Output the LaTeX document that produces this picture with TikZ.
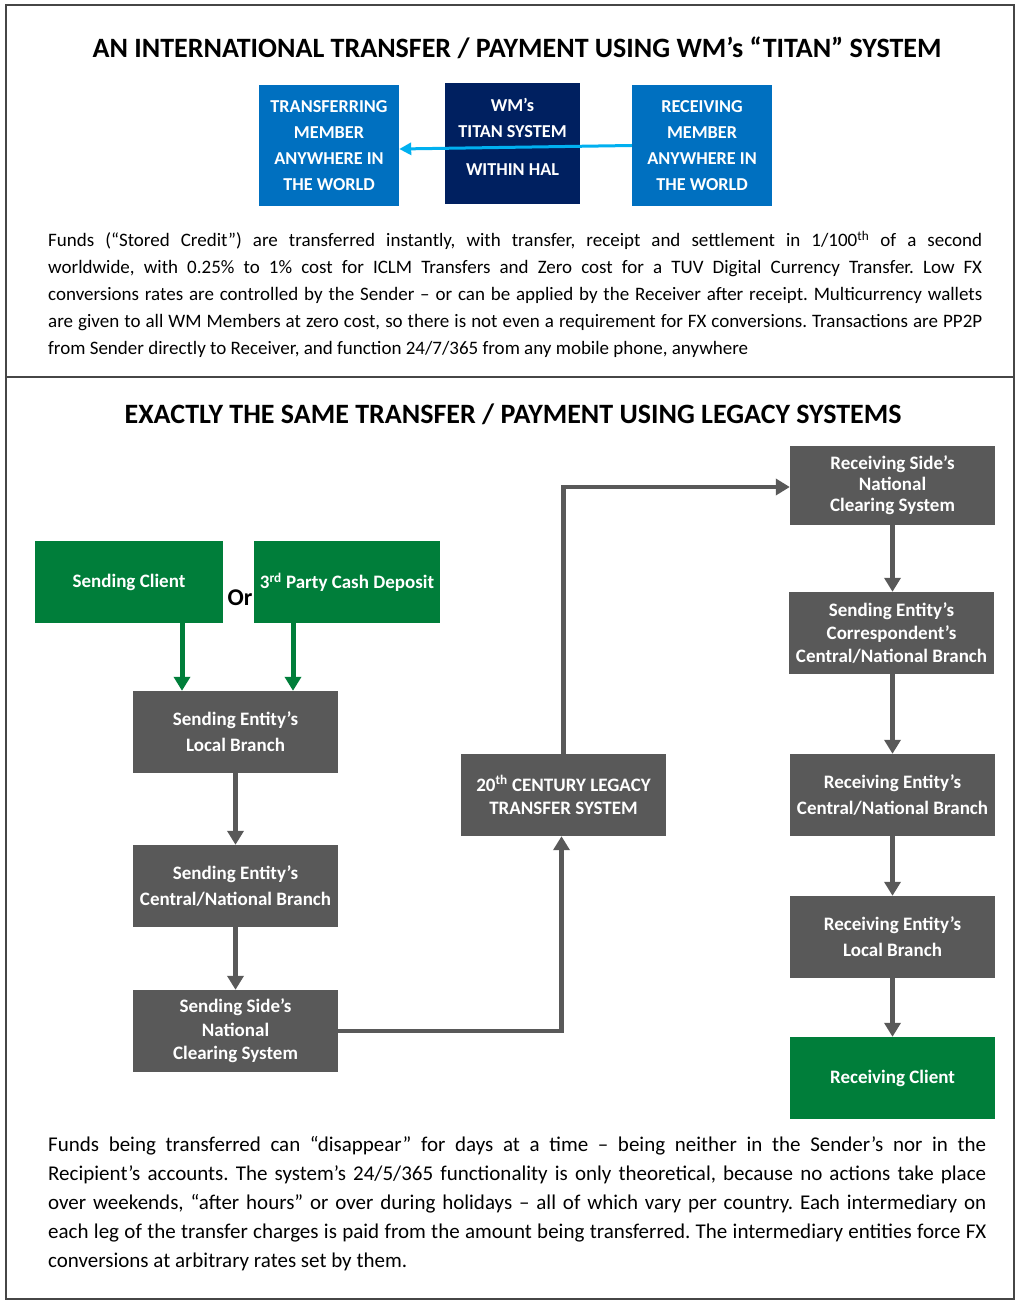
\documentclass[tikz,border=0pt]{standalone}
\usepackage{fontspec}
\setmainfont{Carlito}
\usepackage{xcolor}
\usetikzlibrary{arrows.meta}

\definecolor{wmblue}{RGB}{0,112,192}
\definecolor{wmnavy}{RGB}{0,32,96}
\definecolor{wmcyan}{RGB}{0,176,240}
\definecolor{clientgreen}{RGB}{0,126,58}
\definecolor{legacygray}{RGB}{89,89,89}
\definecolor{framegray}{RGB}{70,70,70}
\frenchspacing

\begin{document}
\begin{tikzpicture}[
  x=1pt, y=-1pt,
  box/.style={draw=none, inner sep=0pt, align=center, text=white},
  memberbox/.style={box, fill=wmblue, minimum width=140pt, minimum height=121pt,
    font=\bfseries\fontsize{18.2}{26}\selectfont},
  titanbox/.style={box, fill=wmnavy, minimum width=135pt, minimum height=121pt},
  clientbox/.style={box, fill=clientgreen, minimum width=#1, minimum height=82pt,
    font=\bfseries\fontsize{19}{23}\selectfont},
  clientbox/.default=205pt,
  legacybox/.style={box, fill=legacygray, minimum width=205pt, minimum height=82pt,
    font=\bfseries\fontsize{19}{#1}\selectfont},
  legacybox/.default=23,
  heading/.style={font=\bfseries\fontsize{28}{32}\selectfont, inner sep=0pt},
  para/.style={anchor=north west, inner sep=0pt, text width=#1, align=justify},
  flow/.style={draw=legacygray, line width=4.5pt, -{Triangle[width=16pt,length=14pt]}},
  greenflow/.style={draw=clientgreen, line width=5pt, -{Triangle[width=16pt,length=14pt]}}
]
\useasboundingbox (0,0) rectangle (1020,1305);
\draw[framegray, line width=1.5pt] (6,5) rectangle (1014,1299);
\draw[framegray, line width=2pt] (6,377) -- (1014,377);

% top half: the titan system
\node[heading] (title1) at (517,48) {AN INTERNATIONAL TRANSFER / PAYMENT USING WM’s “TITAN” SYSTEM};

\node[memberbox] (sender) at (329,145.5) {TRANSFERRING\\MEMBER\\ANYWHERE IN\\THE WORLD};
\node[titanbox] (titan) at (512.5,143.5) {};
\node[text=white, align=center, inner sep=0pt, font=\bfseries\fontsize{18.2}{26}\selectfont]
  (titantext) at ([yshift=6.5pt]titan.center) {WM’s\\TITAN SYSTEM\\[12pt]WITHIN HAL};
\node[memberbox] (receiver) at (702,145.5) {RECEIVING\\MEMBER\\ANYWHERE IN\\THE WORLD};

\draw[draw=wmcyan, line width=3pt, -{Triangle[width=12pt,length=12pt]}]
  (receiver.west) -- ([yshift=-3.5pt]sender.east);

\node[para=934pt, font=\fontsize{19}{27}\selectfont] (info1) at (48,231) {\hyphenpenalty=10000
Funds (“Stored Credit”) are transferred instantly, with transfer, receipt and settlement in 1/100\textsuperscript{th} of a second\linebreak
worldwide, with 0.25\% to 1\% cost for ICLM Transfers and Zero cost for a TUV Digital Currency Transfer. Low FX\linebreak
conversions rates are controlled by the Sender – or can be applied by the Receiver after receipt. Multicurrency wallets\linebreak
are given to all WM Members at zero cost, so there is not even a requirement for FX conversions. Transactions are PP2P\linebreak
from Sender directly to Receiver, and function 24/7/365 from any mobile phone, anywhere};

% bottom half: the legacy route
\node[heading] (title2) at (513,414) {EXACTLY THE SAME TRANSFER / PAYMENT USING LEGACY SYSTEMS};

\node[clientbox=188pt] (sclient) at (129,582) {Sending Client};
\node[clientbox=186pt] (thirdparty) at (347,582) {3\textsuperscript{rd} Party Cash Deposit};
\node[font=\bfseries\fontsize{24}{28}\selectfont, inner sep=0pt] (or) at (240,598) {Or};

\node[legacybox=26] (slocal) at (235.5,732) {Sending Entity’s\\Local Branch};
\node[legacybox=26] (scentral) at (235.5,886) {Sending Entity’s\\Central/National Branch};
\node[legacybox=23.5] (sside) at (235.5,1031) {Sending Side’s\\National\\Clearing System};

\node[legacybox] (legacy) at (563.5,795) {20\textsuperscript{th} CENTURY LEGACY\\TRANSFER SYSTEM};

\node[legacybox=21, minimum height=79pt] (rside) at (892.5,485.5) {Receiving Side’s\\National\\Clearing System};
\node[legacybox] (corr) at (891.5,633) {Sending Entity’s\\Correspondent’s\\Central/National Branch};
\node[legacybox=26] (rcentral) at (892.5,795) {Receiving Entity’s\\Central/National Branch};
\node[legacybox=26] (rlocal) at (892.5,937) {Receiving Entity’s\\Local Branch};
\node[clientbox] (rclient) at (892.5,1078) {Receiving Client};

\coordinate (g1) at ([xshift=53pt]sclient.south);
\coordinate (g2) at ([xshift=-54pt]thirdparty.south);
\draw[greenflow] (g1) -- (g1 |- slocal.north);
\draw[greenflow] (g2) -- (g2 |- slocal.north);

\draw[flow] (slocal) -- (scentral);
\draw[flow] (scentral) -- (sside);
\draw[flow] (sside.east) -| ([xshift=-2pt]legacy.south);
\draw[flow] (legacy.north) |- ([yshift=-1.5pt]rside.west);
\draw[flow] (rside) -- (corr.north -| rside.south);
\draw[flow] (corr.south -| rside.south) -- (rcentral);
\draw[flow] (rcentral) -- (rlocal);
\draw[flow] (rlocal) -- (rclient);

\node[para=938pt, font=\fontsize{21}{29}\selectfont] (info2) at (48,1136) {\hyphenpenalty=10000
Funds being transferred can “disappear” for days at a time – being neither in the Sender’s nor in the\linebreak
Recipient’s accounts. The system’s 24/5/365 functionality is only theoretical, because no actions take place\linebreak
over weekends, “after hours” or over during holidays – all of which vary per country. Each intermediary on\linebreak
each leg of the transfer charges is paid from the amount being transferred. The intermediary entities force FX\linebreak
conversions at arbitrary rates set by them.};
\end{tikzpicture}
\end{document}
